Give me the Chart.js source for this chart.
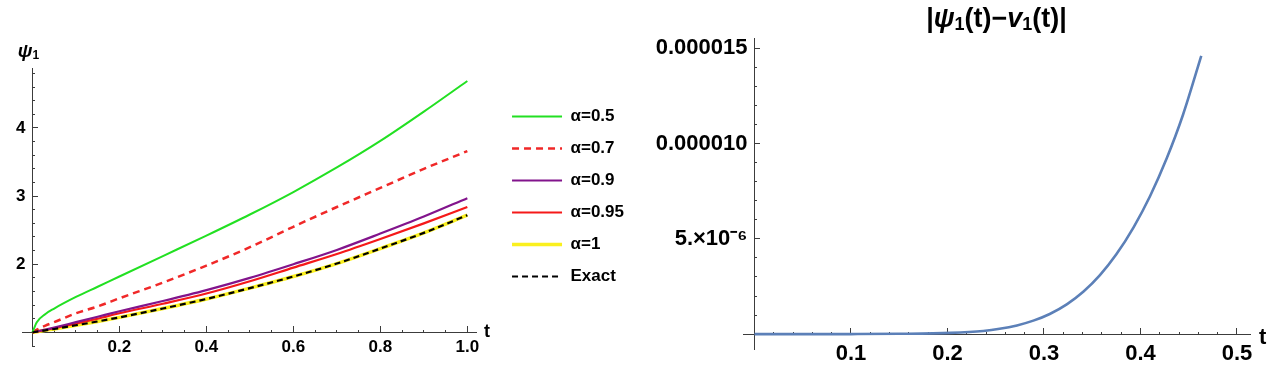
<!DOCTYPE html>
<html>
<head>
<meta charset="utf-8">
<script src="https://cdn.jsdelivr.net/npm/chart.js@4.4.1/dist/chart.umd.min.js"></script>
<style>
  html, body { margin: 0; padding: 0; background: #ffffff; }
  #wrap { position: relative; width: 1280px; height: 366px; overflow: hidden; }
  #leftBox { position: absolute; left: 0; top: 0; width: 640px; height: 366px; }
  #rightBox { position: absolute; left: 640px; top: 0; width: 640px; height: 366px; }
</style>
</head>
<body>
<div id="wrap">
  <div id="leftBox"><canvas id="leftChart" width="640" height="366"></canvas></div>
  <div id="rightBox"><canvas id="rightChart" width="640" height="366"></canvas></div>
</div>
<script>
// ---------------- data ----------------
const tGrid      = [0, 0.01, 0.03, 0.05, 0.1, 0.15, 0.2, 0.3, 0.4, 0.5, 0.6, 0.7, 0.8, 0.9, 1.0];
const psiAlpha05 = [1.00, 1.15, 1.27, 1.35, 1.52, 1.67, 1.82, 2.12, 2.42, 2.73, 3.06, 3.42, 3.81, 4.24, 4.69];
const psiAlpha07 = [1.00, 1.04, 1.10, 1.15, 1.28, 1.38, 1.50, 1.73, 1.98, 2.25, 2.55, 2.84, 3.12, 3.40, 3.66];
const psiAlpha09 = [1.00, 1.015, 1.04, 1.07, 1.15, 1.23, 1.31, 1.46, 1.62, 1.80, 2.00, 2.21, 2.45, 2.70, 2.97];
const psiAlpha095= [1.00, 1.012, 1.035, 1.06, 1.13, 1.20, 1.28, 1.42, 1.57, 1.75, 1.95, 2.15, 2.37, 2.60, 2.84];
const psiAlpha1  = [1.00, 1.01, 1.03, 1.05, 1.105, 1.16, 1.22, 1.35, 1.49, 1.65, 1.82, 2.01, 2.23, 2.46, 2.72];
const psiExact   = [1.00, 1.01, 1.03, 1.05, 1.105, 1.16, 1.22, 1.35, 1.49, 1.65, 1.82, 2.01, 2.23, 2.46, 2.72];
const seriesNames = ['α=0.5', 'α=0.7', 'α=0.9', 'α=0.95', 'α=1', 'Exact'];

const errT      = [0, 0.05, 0.10, 0.15, 0.203, 0.237, 0.254, 0.272, 0.289, 0.306, 0.324, 0.341, 0.358, 0.375, 0.393, 0.41, 0.427, 0.444, 0.463];
const errValues = [0, 0.0003e-6, 0.004e-6, 0.02e-6, 0.07e-6, 0.17e-6, 0.28e-6, 0.46e-6, 0.71e-6, 1.06e-6, 1.58e-6, 2.24e-6, 3.10e-6, 4.19e-6, 5.62e-6, 7.25e-6, 9.20e-6, 11.50e-6, 14.6e-6];

const leftXTickValues  = [0.2, 0.4, 0.6, 0.8, 1.0];
const leftXTickLabels  = ['0.2', '0.4', '0.6', '0.8', '1.0'];
const leftYTickValues  = [2, 3, 4];
const leftYTickLabels  = ['2', '3', '4'];
const rightXTickValues = [0.1, 0.2, 0.3, 0.4, 0.5];
const rightXTickLabels = ['0.1', '0.2', '0.3', '0.4', '0.5'];
const rightYTickValues = [5e-6, 10e-6, 15e-6];
const rightYTickLabels = ['5.×10⁻⁶', '0.000010', '0.000015'];

// ---------------- helpers ----------------
const FONT = '"Liberation Sans", Arial, sans-serif';
const AXIS = '#3c3c3c';
const pts = (xs, ys) => xs.map((x, i) => ({ x: x, y: ys[i] }));
const labelFor = (vals, labels, v, tol) => {
  const i = vals.findIndex(a => Math.abs(a - v) < tol);
  return i >= 0 ? labels[i] : '';
};

function drawRich(ctx, segs, x, baseline, align) {
  let total = 0;
  segs.forEach(s => { ctx.font = s.font; s.w = ctx.measureText(s.text).width; total += s.w; });
  let cx = align === 'center' ? x - total / 2 : x;
  ctx.textAlign = 'left';
  ctx.textBaseline = 'alphabetic';
  segs.forEach(s => { ctx.font = s.font; ctx.fillText(s.text, cx, baseline + (s.dy || 0)); cx += s.w; });
}

const axisTextPlugin = {
  id: 'axisText',
  afterDraw(chart, args, o) {
    const ctx = chart.ctx, ca = chart.chartArea;
    const xs = chart.scales.x, ys = chart.scales.y;
    ctx.save();
    ctx.fillStyle = '#000';
    ctx.font = o.tFont;
    ctx.textAlign = 'left';
    ctx.textBaseline = 'middle';
    ctx.fillText('t', ca.right + o.tGap, ys.getPixelForValue(o.xAxisAt) + o.tDy);
    if (o.ySegs) {
      drawRich(ctx, o.ySegs, xs.getPixelForValue(o.yAxisAt) + o.yDx, ca.top + o.yDy, 'center');
    }
    if (o.titleSegs) {
      drawRich(ctx, o.titleSegs, (ca.left + ca.right) / 2, o.titleBaseline, 'center');
    }
    ctx.restore();
  }
};

function legendItemsWithDash(chart) {
  return Chart.defaults.plugins.legend.labels.generateLabels(chart).map(item => {
    const ds = chart.data.datasets[item.datasetIndex];
    item.lineDash = ds.borderDash;
    item.lineWidth = ds.borderWidth;
    item.strokeStyle = ds.borderColor;
    item.pointStyle = 'line';
    return item;
  });
}

// ---------------- left chart ----------------
const L = { xMin: -0.024, xMax: 1.02, yMin: 0.8, yMax: 4.88, originY: 1, originX: 0, labelX: -0.016 };
const leftSeries = [psiAlpha05, psiAlpha07, psiAlpha09, psiAlpha095, psiAlpha1, psiExact];
const leftStyles = [
  { color: 'rgb(34,224,34)',  width: 2,   dash: [],     order: 1 },
  { color: 'rgb(240,40,40)',  width: 2.5, dash: [7, 5], order: 1 },
  { color: 'rgb(130,20,140)', width: 2.2, dash: [],     order: 1 },
  { color: 'rgb(245,25,25)',  width: 2.2, dash: [],     order: 1 },
  { color: 'rgb(250,240,30)', width: 3.5, dash: [],     order: 1 },
  { color: 'rgb(0,0,0)',      width: 2.2, dash: [6, 4], order: 0 }
];

new Chart(document.getElementById('leftChart'), {
  type: 'line',
  data: {
    datasets: leftSeries.map((s, i) => ({
      label: seriesNames[i],
      data: pts(tGrid, s),
      borderColor: leftStyles[i].color,
      backgroundColor: leftStyles[i].color,
      borderWidth: leftStyles[i].width,
      borderDash: leftStyles[i].dash,
      order: leftStyles[i].order,
      pointRadius: 0,
      fill: false,
      cubicInterpolationMode: 'monotone'
    }))
  },
  options: {
    responsive: false,
    animation: false,
    layout: { padding: { left: 22, top: 68, right: 6, bottom: 20 } },
    plugins: {
      tooltip: { enabled: false },
      legend: {
        position: 'right',
        align: 'start',
        maxWidth: 300,
        title: { display: true, text: '', padding: { top: 15, bottom: 0 }, font: { size: 10, lineHeight: 1 } },
        labels: {
          usePointStyle: true,
          pointStyle: 'line',
          pointStyleWidth: 50,
          padding: 15,
          color: '#000',
          font: { family: FONT, size: 17, weight: 'bold' },
          generateLabels: legendItemsWithDash,
          sort: (a, b) => a.datasetIndex - b.datasetIndex
        }
      },
      axisText: {
        tFont: 'bold 18px ' + FONT, tGap: 8, tDy: 0, xAxisAt: 1,
        yAxisAt: 0, yDx: -4, yDy: -11,
        ySegs: [
          { text: 'ψ', font: 'italic bold 19px ' + FONT },
          { text: '1', font: 'bold 12px ' + FONT, dy: 2 }
        ]
      }
    },
    scales: {
      x: {
        type: 'linear', axis: 'x', min: L.xMin, max: L.xMax, position: { y: L.originY },
        ticks: { display: false, stepSize: 0.05, includeBounds: false, autoSkip: false },
        grid: { display: true, drawOnChartArea: false, drawTicks: true, tickLength: -3, tickColor: AXIS, tickWidth: 1 },
        border: { display: true, color: AXIS, width: 1 }
      },
      xMajor: {
        type: 'linear', axis: 'x', min: L.xMin, max: L.xMax, position: { y: L.originY },
        ticks: {
          stepSize: 0.2, includeBounds: false, autoSkip: false, maxRotation: 0, padding: 11,
          color: '#000', font: { family: FONT, size: 17, weight: 'bold' },
          callback: v => labelFor(leftXTickValues, leftXTickLabels, v, 1e-6)
        },
        grid: { display: true, drawOnChartArea: false, drawTicks: true, tickLength: -6, tickColor: AXIS, tickWidth: 1 },
        border: { display: false }
      },
      y: {
        type: 'linear', axis: 'y', min: L.yMin, max: L.yMax, position: { x: L.originX },
        ticks: { display: false, stepSize: 0.2, includeBounds: false, autoSkip: false },
        grid: { display: true, drawOnChartArea: false, drawTicks: true, tickLength: -3, tickColor: AXIS, tickWidth: 1 },
        border: { display: true, color: AXIS, width: 1 }
      },
      yMajor: {
        type: 'linear', axis: 'y', min: L.yMin, max: L.yMax, position: { x: L.originX },
        ticks: { display: false, stepSize: 1, includeBounds: false, autoSkip: false },
        grid: { display: true, drawOnChartArea: false, drawTicks: true, tickLength: -6, tickColor: AXIS, tickWidth: 1 },
        border: { display: false }
      },
      yLabels: {
        type: 'linear', axis: 'y', min: L.yMin, max: L.yMax, position: { x: L.labelX },
        ticks: {
          stepSize: 1, includeBounds: false, autoSkip: false,
          color: '#000', font: { family: FONT, size: 17, weight: 'bold' },
          callback: v => labelFor(leftYTickValues, leftYTickLabels, v, 1e-6)
        },
        grid: { display: false, drawTicks: false },
        border: { display: false }
      },
      gap: {
        type: 'linear', axis: 'y', position: 'right',
        ticks: { display: false },
        grid: { display: false, drawTicks: false },
        border: { display: false },
        afterFit: s => { s.width = 21; }
      }
    }
  },
  plugins: [axisTextPlugin]
});

// ---------------- right chart ----------------
const R = { xMin: -0.0119, xMax: 0.5135, yMin: -0.82e-6, yMax: 15.54e-6, originY: 0, originX: 0, labelX: -0.0073 };

new Chart(document.getElementById('rightChart'), {
  type: 'line',
  data: {
    datasets: [{
      label: '|ψ1(t)−v1(t)|',
      data: pts(errT, errValues),
      borderColor: 'rgb(92,128,184)',
      backgroundColor: 'rgb(92,128,184)',
      borderWidth: 2.6,
      pointRadius: 0,
      fill: false,
      cubicInterpolationMode: 'monotone'
    }]
  },
  options: {
    responsive: false,
    animation: false,
    layout: { padding: { left: 103, top: 38, right: 30, bottom: 16 } },
    plugins: {
      tooltip: { enabled: false },
      legend: { display: false },
      axisText: {
        tFont: 'bold 22px ' + FONT, tGap: 9, tDy: 4, xAxisAt: 0,
        titleBaseline: 27,
        titleSegs: [
          { text: '|', font: 'bold 27px ' + FONT },
          { text: 'ψ', font: 'italic bold 27px ' + FONT },
          { text: '1', font: 'bold 18px ' + FONT, dy: 3 },
          { text: '(t)−', font: 'bold 27px ' + FONT },
          { text: 'v', font: 'italic bold 27px ' + FONT },
          { text: '1', font: 'bold 18px ' + FONT, dy: 3 },
          { text: '(t)|', font: 'bold 27px ' + FONT }
        ]
      }
    },
    scales: {
      x: {
        type: 'linear', axis: 'x', min: R.xMin, max: R.xMax, position: { y: R.originY },
        ticks: { display: false, stepSize: 0.02, includeBounds: false, autoSkip: false },
        grid: { display: true, drawOnChartArea: false, drawTicks: true, tickLength: -3, tickColor: AXIS, tickWidth: 1 },
        border: { display: true, color: AXIS, width: 1 }
      },
      xMajor: {
        type: 'linear', axis: 'x', min: R.xMin, max: R.xMax, position: { y: R.originY },
        ticks: {
          stepSize: 0.1, includeBounds: false, autoSkip: false, maxRotation: 0, padding: 13,
          color: '#000', font: { family: FONT, size: 22, weight: 'bold' },
          callback: v => labelFor(rightXTickValues, rightXTickLabels, v, 1e-6)
        },
        grid: { display: true, drawOnChartArea: false, drawTicks: true, tickLength: -6, tickColor: AXIS, tickWidth: 1 },
        border: { display: false }
      },
      y: {
        type: 'linear', axis: 'y', min: R.yMin, max: R.yMax, position: { x: R.originX },
        ticks: { display: false, stepSize: 1e-6, includeBounds: false, autoSkip: false },
        grid: { display: true, drawOnChartArea: false, drawTicks: true, tickLength: -3, tickColor: AXIS, tickWidth: 1 },
        border: { display: true, color: AXIS, width: 1 }
      },
      yMajor: {
        type: 'linear', axis: 'y', min: R.yMin, max: R.yMax, position: { x: R.originX },
        ticks: { display: false, stepSize: 5e-6, includeBounds: false, autoSkip: false },
        grid: { display: true, drawOnChartArea: false, drawTicks: true, tickLength: -6, tickColor: AXIS, tickWidth: 1 },
        border: { display: false }
      },
      yLabels: {
        type: 'linear', axis: 'y', min: R.yMin, max: R.yMax, position: { x: R.labelX },
        ticks: {
          stepSize: 5e-6, includeBounds: false, autoSkip: false,
          color: '#000', font: { family: FONT, size: 22, weight: 'bold' },
          callback: v => labelFor(rightYTickValues, rightYTickLabels, v, 1e-9)
        },
        grid: { display: false, drawTicks: false },
        border: { display: false }
      }
    }
  },
  plugins: [axisTextPlugin]
});
</script>
</body>
</html>
